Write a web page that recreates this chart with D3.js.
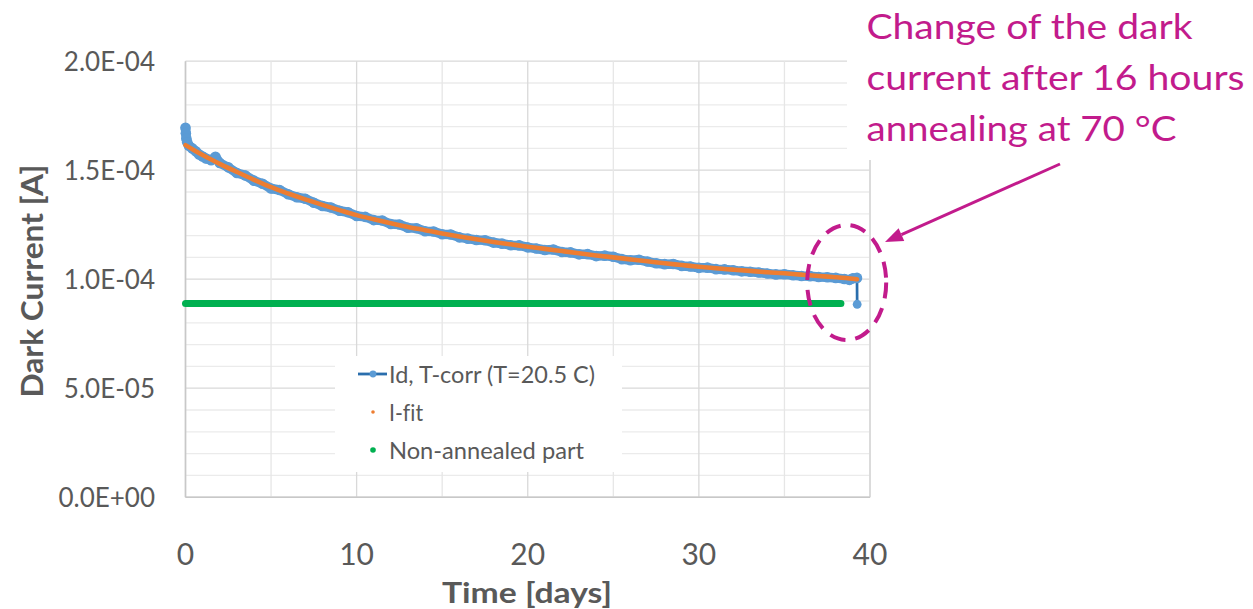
<!DOCTYPE html>
<html>
<head>
<meta charset="utf-8">
<script src="https://cdn.jsdelivr.net/npm/d3@7"></script>
<style>
  html, body { margin: 0; padding: 0; background: #fff; }
  svg { display: block; }
  text { font-family: Lato, "Open Sans", sans-serif; font-variant-ligatures: none; }
</style>
</head>
<body>
<svg id="chart" width="1253" height="609"></svg>
<script>
// Measured dark current (temperature corrected), days vs amperes
const measDays = [0, 0.02, 0.05, 0.1, 0.2, 0.4, 0.6, 0.8, 1.0, 1.2, 1.5, 1.75, 2.0, 2.5, 3.0, 3.5, 4.0, 4.5,
  5.0, 5.5, 6.0, 6.5, 7.0, 7.5, 8.0, 8.5, 9.0, 9.5, 10.0, 10.5, 11.0, 11.5, 12.0, 12.5, 13.0, 13.5,
  14.0, 14.5, 15.0, 15.5, 16.0, 16.5, 17.0, 17.5, 18.0, 18.5, 19.0, 19.5, 20.0, 20.5, 21.0, 21.5,
  22.0, 22.5, 23.0, 23.5, 24.0, 24.5, 25.0, 25.5, 26.0, 26.5, 27.0, 27.5, 28.0, 28.5, 29.0, 29.5,
  30.0, 30.5, 31.0, 31.5, 32.0, 32.5, 33.0, 33.5, 34.0, 34.5, 35.0, 35.5, 36.0, 36.5, 37.0, 37.5,
  38.0, 38.5, 38.8, 39.0, 39.24, 39.25];
const measCurrent = [169.5e-6, 167.0e-6, 164.5e-6, 162.8e-6, 161.2e-6, 160.0e-6, 158.7e-6, 157.2e-6, 156.3e-6,
  155.4e-6, 154.6e-6, 156.2e-6, 153.3e-6, 151.3e-6, 148.7e-6, 147.6e-6, 145.2e-6, 143.8e-6,
  141.6e-6, 140.9e-6, 139.0e-6, 137.6e-6, 136.9e-6, 135.1e-6, 133.6e-6, 132.9e-6, 131.4e-6, 130.7e-6,
  129.0e-6, 128.6e-6, 127.1e-6, 126.9e-6, 125.3e-6, 125.1e-6, 123.6e-6, 123.4e-6, 122.0e-6, 121.9e-6,
  120.6e-6, 120.5e-6, 119.2e-6, 118.6e-6, 118.0e-6, 117.9e-6, 116.8e-6, 116.3e-6, 115.6e-6, 115.5e-6,
  114.6e-6, 114.1e-6, 113.4e-6, 113.6e-6, 112.5e-6, 112.3e-6, 111.4e-6, 111.5e-6, 110.6e-6, 110.8e-6,
  110.3e-6, 109.2e-6, 108.7e-6, 108.9e-6, 108.1e-6, 107.3e-6, 106.9e-6, 107.0e-6, 106.1e-6, 105.8e-6,
  105.2e-6, 105.3e-6, 104.6e-6, 104.5e-6, 104.1e-6, 103.6e-6, 103.4e-6, 103.1e-6, 102.6e-6, 102.2e-6,
  102.3e-6, 101.8e-6, 101.5e-6, 101.4e-6, 101.0e-6, 100.9e-6, 100.6e-6, 100.1e-6, 99.7e-6, 100.4e-6,
  100.6e-6, 88.5e-6];

// Fitted current curve
const fitDays = [0, 0.5, 1, 1.5, 2, 3, 4, 5, 6, 7, 8, 9, 10, 11, 12, 13, 14, 15, 16, 17, 18, 19, 20,
  21, 22, 23, 24, 25, 26, 27, 28, 29, 30, 31, 32, 33, 34, 35, 36, 37, 38, 39, 39.24];
const fitCurrent = [161.5e-6, 159.2e-6, 157.0e-6, 154.9e-6, 152.9e-6, 149.2e-6, 145.6e-6, 142.2e-6,
  139.3e-6, 136.6e-6, 134.1e-6, 131.7e-6, 129.4e-6, 127.5e-6, 125.7e-6, 124.0e-6, 122.5e-6, 121.0e-6,
  119.6e-6, 118.3e-6, 117.1e-6, 116.0e-6, 114.9e-6, 113.9e-6, 112.9e-6, 111.9e-6, 110.9e-6, 110.0e-6,
  109.1e-6, 108.2e-6, 107.3e-6, 106.5e-6, 105.7e-6, 105.0e-6, 104.4e-6, 103.8e-6, 103.2e-6, 102.7e-6,
  102.1e-6, 101.5e-6, 100.9e-6, 100.2e-6, 100.0e-6];

// Non-annealed part (constant level)
const baseDays = [0, 38.3];
const baseCurrent = [88.8e-6, 88.8e-6];

// Axis ticks and labels
const xTicks = [0, 10, 20, 30, 40];
const xGrid = [0, 5, 10, 15, 20, 25, 30, 35, 40];
const yTicks = [0, 5e-5, 1e-4, 1.5e-4, 2e-4];
const yTickLabels = ["0.0E+00", "5.0E-05", "1.0E-04", "1.5E-04", "2.0E-04"];
const yGrid = d3.range(0, 21).map(i => i * 1e-5);

const legendLabels = ["Id, T-corr (T=20.5 C)", "I-fit", "Non-annealed part"];
const noteLines = ["Change of the dark", "current after 16 hours", "annealing at 70 °C"];

const colors = {
  measLine: "#2a6ead",
  measMarker: "#5b9bd5",
  fit: "#ed7d31",
  base: "#00b050",
  text: "#595959",
  note: "#c21b8c"
};

const svg = d3.select("#chart");
const x = d3.scaleLinear().domain([0, 40]).range([185.5, 870]);
const y = d3.scaleLinear().domain([0, 2e-4]).range([497.2, 61.2]);

// Gridlines
const grid = svg.append("g");
grid.selectAll(".hg").data(yGrid).join("line")
  .attr("x1", x(0)).attr("x2", x(40))
  .attr("y1", d => y(d)).attr("y2", d => y(d))
  .attr("stroke", (d, i) => i % 5 === 0 ? "#d9d9d9" : "#ebebeb")
  .attr("stroke-width", 1.3);
grid.selectAll(".vg").data(xGrid).join("line")
  .attr("y1", y(0)).attr("y2", y(2e-4))
  .attr("x1", d => x(d)).attr("x2", d => x(d))
  .attr("stroke", d => d % 10 === 0 ? "#d9d9d9" : "#e6e6e6")
  .attr("stroke-width", 1.3);
// Plot frame
svg.append("line").attr("x1", x(40)).attr("x2", x(40)).attr("y1", y(0)).attr("y2", y(2e-4))
  .attr("stroke", "#d9d9d9").attr("stroke-width", 1.6);
svg.append("line").attr("x1", x(0)).attr("x2", x(0)).attr("y1", y(0)).attr("y2", y(2e-4))
  .attr("stroke", "#c8c8c8").attr("stroke-width", 1.6);
svg.append("line").attr("x1", x(0)).attr("x2", x(40)).attr("y1", y(0)).attr("y2", y(0))
  .attr("stroke", "#c8c8c8").attr("stroke-width", 1.6);

// Axis tick labels
svg.append("g").selectAll("text").data(yTicks).join("text")
  .attr("x", 155).attr("y", d => y(d)).attr("dy", "0.36em")
  .attr("text-anchor", "end")
  .attr("font-size", 26).attr("fill", colors.text)
  .text((d, i) => yTickLabels[i]);
svg.append("g").selectAll("text").data(xTicks).join("text")
  .attr("x", d => x(d)).attr("y", 565)
  .attr("text-anchor", "middle")
  .attr("font-size", 30).attr("fill", colors.text)
  .text(d => d);

// Axis titles
svg.append("text")
  .attr("x", 527).attr("y", 603)
  .attr("text-anchor", "middle")
  .attr("font-size", 29).attr("font-weight", 700).attr("fill", colors.text)
  .attr("textLength", 170).attr("lengthAdjust", "spacingAndGlyphs")
  .text("Time [days]");
svg.append("text")
  .attr("transform", "translate(43,281) rotate(-90)")
  .attr("text-anchor", "middle")
  .attr("font-size", 31).attr("font-weight", 700).attr("fill", colors.text)
  .attr("textLength", 233).attr("lengthAdjust", "spacingAndGlyphs")
  .text("Dark Current [A]");

// Non-annealed level
const lineGen = d3.line().x(d => x(d[0])).y(d => y(d[1]));
svg.append("path")
  .datum(baseDays.map((d, i) => [d, baseCurrent[i]]))
  .attr("d", lineGen)
  .attr("fill", "none").attr("stroke", colors.base)
  .attr("stroke-width", 7).attr("stroke-linecap", "round");

// Measured series: connecting line, then marker trail
const meas = measDays.map((d, i) => [d, measCurrent[i]]);
svg.append("path").datum(meas).attr("d", lineGen)
  .attr("fill", "none").attr("stroke", colors.measLine).attr("stroke-width", 2.7);
svg.append("path").datum(meas.slice(0, meas.length - 1)).attr("d", lineGen)
  .attr("fill", "none").attr("stroke", colors.measMarker)
  .attr("stroke-width", 9.5).attr("stroke-linejoin", "round").attr("stroke-linecap", "round");
svg.append("g").selectAll("circle").data(meas).join("circle")
  .attr("cx", d => x(d[0])).attr("cy", d => y(d[1])).attr("r", (d, i) => i === meas.length - 1 ? 4.4 : 5.3)
  .attr("fill", colors.measMarker);

// Fit curve
svg.append("path")
  .datum(fitDays.map((d, i) => [d, fitCurrent[i]]))
  .attr("d", lineGen.curve(d3.curveMonotoneX))
  .attr("fill", "none").attr("stroke", colors.fit)
  .attr("stroke-width", 4.6).attr("stroke-linecap", "round");

// Legend
const lg = svg.append("g");
lg.append("rect").attr("x", 335).attr("y", 356).attr("width", 287).attr("height", 116).attr("fill", "#fff");
const rows = [374, 412, 450];
lg.append("line").attr("x1", 358).attr("x2", 387).attr("y1", rows[0]).attr("y2", rows[0])
  .attr("stroke", colors.measLine).attr("stroke-width", 2.8);
lg.append("circle").attr("cx", 373).attr("cy", rows[0]).attr("r", 3.4).attr("fill", colors.measMarker);
lg.append("circle").attr("cx", 373).attr("cy", rows[1]).attr("r", 1.8).attr("fill", colors.fit);
lg.append("circle").attr("cx", 373).attr("cy", rows[2]).attr("r", 2.8).attr("fill", colors.base);
const legendWidths = [206, 34, 195];
lg.selectAll("text").data(legendLabels).join("text")
  .attr("x", 389).attr("y", (d, i) => rows[i] + 8.5)
  .attr("font-size", 22.5).attr("fill", colors.text)
  .attr("textLength", (d, i) => legendWidths[i]).attr("lengthAdjust", "spacingAndGlyphs")
  .text(d => d);

// Annotation: text box, arrow and dashed ellipse
svg.append("rect").attr("x", 847).attr("y", 0).attr("width", 406).attr("height", 160).attr("fill", "#fff");
const noteWidths = [326, 378, 310];
svg.append("g").selectAll("text").data(noteLines).join("text")
  .attr("x", 866.5).attr("y", (d, i) => 38.5 + i * 51)
  .attr("font-size", 34).attr("fill", colors.note)
  .attr("textLength", (d, i) => noteWidths[i]).attr("lengthAdjust", "spacingAndGlyphs")
  .text(d => d);

const tip = [885, 242], tail = [1060, 164];
const ang = Math.atan2(tip[1] - tail[1], tip[0] - tail[0]);
const headLen = 18, headHalf = 7;
const base = [tip[0] - headLen * Math.cos(ang), tip[1] - headLen * Math.sin(ang)];
svg.append("line").attr("x1", tail[0]).attr("y1", tail[1]).attr("x2", base[0]).attr("y2", base[1])
  .attr("stroke", colors.note).attr("stroke-width", 3);
svg.append("path")
  .attr("d", d3.line()([
    tip,
    [base[0] + headHalf * Math.sin(ang), base[1] - headHalf * Math.cos(ang)],
    [base[0] - headHalf * Math.sin(ang), base[1] + headHalf * Math.cos(ang)]
  ]) + "Z")
  .attr("fill", colors.note);

svg.append("ellipse")
  .attr("cx", 846.7).attr("cy", 282.5).attr("rx", 39.5).attr("ry", 57.5)
  .attr("fill", "none").attr("stroke", colors.note).attr("stroke-width", 4)
  .attr("stroke-dasharray", "16 10");
</script>
</body>
</html>
